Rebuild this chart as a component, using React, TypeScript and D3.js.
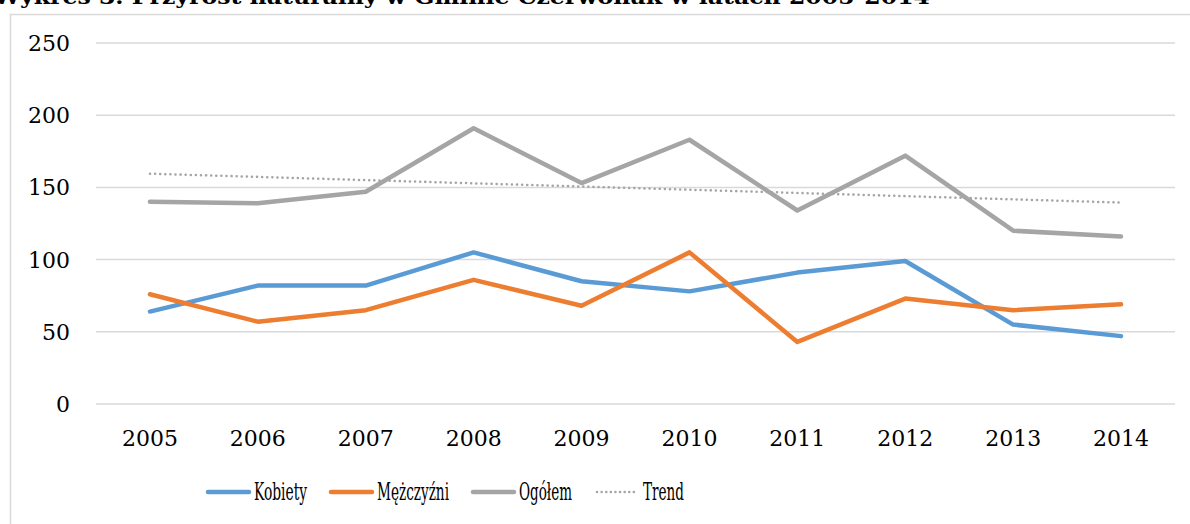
import * as d3 from 'd3';
import React from 'react';

// dane z wykresu
const years = ['2005', '2006', '2007', '2008', '2009', '2010', '2011', '2012', '2013', '2014'];
const kobiety = [64, 82, 82, 105, 85, 78, 91, 99, 55, 47];
const mezczyzni = [76, 57, 65, 86, 68, 105, 43, 73, 65, 69];
const ogolem = [140, 139, 147, 191, 153, 183, 134, 172, 120, 116];
const trendYears = ['2005', '2014'];
const trendValues = [159.5, 139.5];
const yTicks = [0, 50, 100, 150, 200, 250];

const W = 1190;
const H = 524;
const left = 96, right = 1175, top = 43, bottom = 404;

const series = [
  { name: 'Kobiety', values: kobiety, color: '#5b9bd5' },
  { name: 'Mężczyźni', values: mezczyzni, color: '#ed7d31' },
  { name: 'Ogółem', values: ogolem, color: '#a5a5a5' },
];

export default function App() {
  const x = d3.scaleBand().domain(years).range([left, right]);
  const y = d3.scaleLinear().domain([0, 250]).range([bottom, top]);
  const cx = (d: string) => (x(d) as number) + x.bandwidth() / 2;

  const line = d3.line<number>()
    .x((d, i) => cx(years[i]))
    .y(d => y(d));
  const trendLine = d3.line<number>()
    .x((d, i) => cx(trendYears[i]))
    .y(d => y(d));

  // legenda: pozycje i szerokości tekstu
  const legend = [
    { name: 'Kobiety', color: '#5b9bd5', x0: 208, tw: 53, dotted: false },
    { name: 'Mężczyźni', color: '#ed7d31', x0: 331, tw: 72, dotted: false },
    { name: 'Ogółem', color: '#a5a5a5', x0: 473, tw: 53, dotted: false },
    { name: 'Trend', color: '#a5a5a5', x0: 597, tw: 41, dotted: true },
  ];

  return (
    <svg width={W} height={H} style={{ position: 'absolute', left: 0, top: 0 }}
      fontFamily="'DejaVu Serif', serif">
      <rect width={W} height={H} fill="#fff" />
      <text x={-6} y={4} fontSize={21} fontWeight="bold" textLength={936}
        lengthAdjust="spacingAndGlyphs" fill="#000">
        Wykres 3. Przyrost naturalny w Gminie Czerwonak w latach 2005-2014
      </text>
      <rect x={10.5} y={14.5} width={W + 20} height={H + 20} fill="none" stroke="#d9d9d9" strokeWidth={1.5} />

      {yTicks.map(t => (
        <g key={t}>
          <line x1={left} x2={right} y1={y(t)} y2={y(t)} stroke="#d9d9d9" strokeWidth={1.5} />
          <text x={70} y={y(t) + 8} textAnchor="end" fontSize={22} fill="#000">{t}</text>
        </g>
      ))}

      {years.map(yr => (
        <text key={yr} x={cx(yr)} y={446} textAnchor="middle" fontSize={22} fill="#000">{yr}</text>
      ))}

      <path d={trendLine(trendValues) || ''} fill="none" stroke="#a5a5a5" strokeWidth={2.5}
        strokeDasharray="0.1 5" strokeLinecap="round" />
      {series.map(s => (
        <path key={s.name} d={line(s.values) || ''} fill="none" stroke={s.color}
          strokeWidth={4.5} strokeLinecap="round" strokeLinejoin="round" />
      ))}

      {legend.map(l => (
        <g key={l.name}>
          <line x1={l.x0} x2={l.x0 + 41} y1={492} y2={492} stroke={l.color}
            strokeWidth={l.dotted ? 2.5 : 4.5} strokeLinecap="round"
            strokeDasharray={l.dotted ? '0.1 4.5' : undefined} />
          <text x={l.x0 + 46} y={500} fontSize={24} fill="#000"
            textLength={l.tw} lengthAdjust="spacingAndGlyphs">{l.name}</text>
        </g>
      ))}
    </svg>
  );
}
